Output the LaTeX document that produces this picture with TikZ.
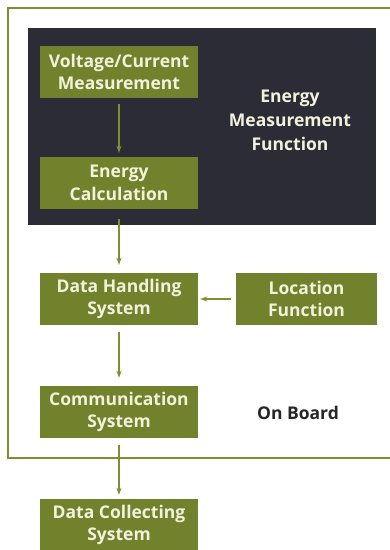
\documentclass[tikz,border=0pt]{standalone}
\usepackage{fontspec}
\setmainfont{Open Sans}
\usetikzlibrary{arrows.meta}
\definecolor{boxgreen}{HTML}{72812C}
\definecolor{linegreen}{HTML}{7F8F30}
\definecolor{darkbg}{HTML}{2B2C35}
\definecolor{boxtext}{HTML}{F2F2DC}
\begin{document}
\begin{tikzpicture}[x=1pt,y=-1pt,
  gbox/.style={fill=boxgreen, draw=none, text=boxtext, font=\bfseries\fontsize{17.5}{22.5}\selectfont,
    align=center, minimum width=158pt, minimum height=52pt, inner sep=0pt},
  conn/.style={draw=linegreen, line width=1.2pt, -{Stealth[length=7pt,width=5pt]}},
  lbl/.style={font=\bfseries\fontsize{17.5}{24}\selectfont, align=center}]
\useasboundingbox (0,0) rectangle (390,550);
\fill[white] (0,0) rectangle (390,550);
% outer frame
\draw[linegreen, line width=1.2pt] (391,8) -- (8,8) -- (8,458) -- (391,458);
% dark panel
\fill[darkbg] (28,28) rectangle (376,225);
\node[gbox] (vc) at (119,72) {Voltage/Current\\Measurement};
\node[gbox] (ec) at (119,183) {Energy\\Calculation};
\node[lbl, text=boxtext] (emf) at (290,120) {Energy\\Measurement\\Function};
\node[gbox] (dh) at (119,299) {Data Handling\\System};
\node[gbox, minimum width=141pt] (lf) at (306.5,299) {Location\\Function};
\node[gbox] (cs) at (119,412) {Communication\\System};
\node[lbl, text=black!85] (ob) at (298,413) {On Board};
\node[gbox] (dc) at (119,525) {Data Collecting\\System};
\draw[conn] ([yshift=-6pt]vc.south) -- ([yshift=4pt]ec.north);
\draw[conn] ([yshift=-10pt]ec.south) -- ([yshift=8pt]dh.north);
\draw[conn] ([xshift=-5pt]lf.west) -- ([xshift=2pt]dh.east);
\draw[conn] ([yshift=-7pt]dh.south) -- ([yshift=8pt]cs.north);
\draw[conn] ([yshift=-7pt]cs.south) -- ([yshift=4pt]dc.north);
\end{tikzpicture}
\end{document}
